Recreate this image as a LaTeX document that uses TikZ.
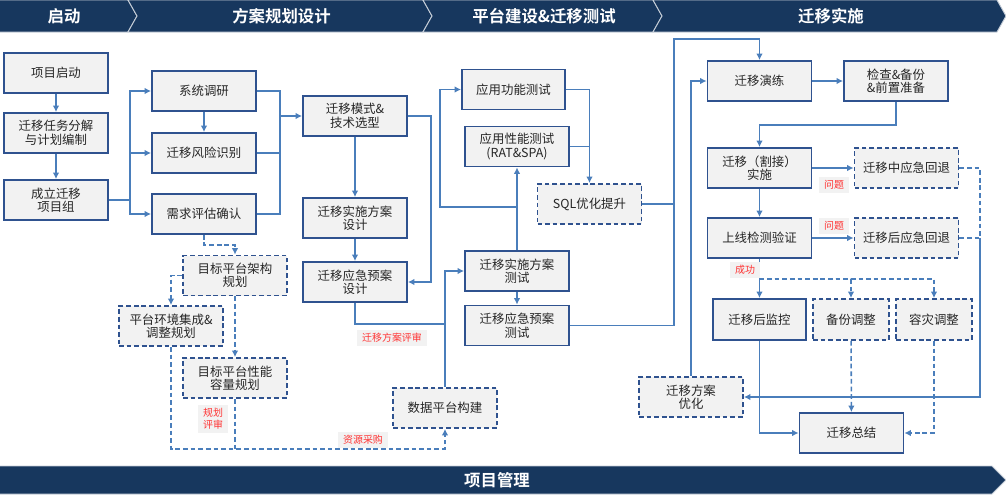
\documentclass[tikz,border=0pt]{standalone}
\usepackage{fontspec}
\setmainfont{Noto Sans CJK SC}[BoldFont={Noto Sans CJK SC Bold}]
\usetikzlibrary{arrows.meta}
\definecolor{bandColor}{RGB}{23,55,94}
\definecolor{boxBorder}{RGB}{47,82,143}
\definecolor{lineColor}{RGB}{74,126,187}
\definecolor{boxFill}{RGB}{242,242,242}
\definecolor{noteRed}{RGB}{255,50,50}
\definecolor{textGray}{RGB}{38,38,38}
\tikzstyle{diagram} = [x = .03cm, y = -.03cm]
\tikzstyle{phaseStyle} = [fill=bandColor, draw=white!75!bandColor, line width=.8pt]
\tikzstyle{phaseText} = [text=white, font=\fontsize{14}{16}\selectfont\bfseries]
\tikzstyle{stepBox} = [draw=boxBorder, fill=boxFill, line width=1.5pt, minimum width=3.12cm, minimum height=1.2cm, inner sep=1pt, align=center, text=textGray, font=\fontsize{10.6}{11.5}\selectfont]
\tikzstyle{planBox} = [stepBox, dash pattern=on 4pt off 2.5pt]
\tikzstyle{plainLine} = [draw=lineColor, line width=1.3pt]
\tikzstyle{flowLine} = [plainLine, -{Latex[length=5.5pt,width=5.5pt]}]
\tikzstyle{dashLine} = [plainLine, dash pattern=on 4pt off 2.5pt]
\tikzstyle{dashFlow} = [flowLine, dash pattern=on 4pt off 2.5pt]
\tikzstyle{noteLabel} = [fill=boxFill, text=noteRed, font=\fontsize{8.5}{10}\selectfont, inner xsep=4pt, inner ysep=3pt, align=center]
\newcommand{\phaseSegment}[4]{\filldraw [phaseStyle] (#1,0) -- (#2,0) -- (#2+9,16) -- (#2,32) -- (#1,32) -- (#1+9,16) -- cycle; \node [phaseText] (#3) at ({(#1+#2)/2+6},16) {#4};}
\begin{document}
\begin{tikzpicture}[diagram]
\useasboundingbox (0,0) rectangle (1006,500);
% phases
\phaseSegment{-12}{128}{phaseStart}{启动}
\phaseSegment{128}{423}{phasePlan}{方案规划设计}
\phaseSegment{423}{653}{phaseBuild}{平台建设\&迁移测试}
\phaseSegment{653}{997}{phaseRun}{迁移实施}
\filldraw [phaseStyle] (-2,466) -- (992,466) -- (1006,480) -- (992,494) -- (-2,494) -- cycle;
\node [phaseText] (projectMgmt) at (497,480) {项目管理};

% start
\node [stepBox] (kickoff) at (56,73) {项目启动};
\node [stepBox] (taskPlan) at (56,133) {迁移任务分解\\与计划编制};
\node [stepBox] (teamSetup) at (56,200) {成立迁移\\项目组};
\draw [flowLine] (kickoff) -- (taskPlan);
\draw [flowLine] (taskPlan) -- (teamSetup);

% planning
\node [stepBox] (survey) at (204,91) {系统调研};
\node [stepBox] (risk) at (204,153) {迁移风险识别};
\node [stepBox] (demand) at (204,214) {需求评估确认};
\node [stepBox] (modeSel) at (355,116) {迁移模式\&\\技术选型};
\node [stepBox] (implDesign) at (355,218) {迁移实施方案\\设计};
\node [stepBox] (contDesign) at (355,282) {迁移应急预案\\设计};
\node [planBox] (archPlan) at (235,275.5) {目标平台架构\\规划};
\node [planBox] (envPlan) at (171,326) {平台环境集成\&\\调整规划};
\node [planBox] (capPlan) at (235,378) {目标平台性能\\容量规划};
\coordinate (splitA) at (130,200);
\coordinate (mergeA) at (280,116);
\draw [plainLine] (teamSetup.east) -- (splitA);
\draw [flowLine] (splitA) |- (survey.west);
\draw [flowLine] (splitA) |- (risk.west);
\draw [flowLine] (splitA) |- (demand.west);
\draw [flowLine] (survey) -- (risk);
\draw [plainLine] (survey.east) -| (mergeA);
\draw [plainLine] (risk.east) -| (mergeA);
\draw [plainLine] (demand.east) -| (mergeA);
\draw [flowLine] (mergeA) -- (modeSel.west);
\draw [flowLine] (modeSel) -- (implDesign);
\draw [flowLine] (implDesign) -- (contDesign);
\draw [flowLine] (modeSel.east) -- ++(23,0) |- (contDesign.east);
\draw [dashFlow] (demand.south) -- ++(0,10) -| (archPlan.north);
\draw [dashFlow] (archPlan.west) -| (envPlan.north);
\draw [dashFlow] (archPlan) -- (capPlan);

% build and test
\node [stepBox, minimum width=3.09cm] (funcTest) at (513.5,89.5) {应用功能测试};
\node [stepBox] (perfTest) at (517,146.5) {应用性能测试\\(RAT\&SPA)};
\node [planBox] (sqlOpt) at (589.5,204) {SQL优化提升};
\node [stepBox] (implTest) at (517,271) {迁移实施方案\\测试};
\node [stepBox] (contTest) at (517,325.5) {迁移应急预案\\测试};
\node [planBox] (dataBuild) at (445,408) {数据平台构建};
\coordinate (reviewJoin) at (445,324);
\coordinate (funcJoin) at (517,207);
\coordinate (purchase) at (445,449);
\draw [plainLine] (contDesign.south) |- (reviewJoin);
\draw [flowLine] (dataBuild.north) |- (implTest.west);
\draw [flowLine] (implTest) -- (perfTest);
\draw [flowLine] (funcJoin) -- (440,207) |- (funcTest.west);
\draw [flowLine] (implTest) -- (contTest);
\draw [flowLine] (funcTest.east) -| (sqlOpt.north);
\draw [plainLine] (perfTest.east) -- (perfTest.east -| sqlOpt.north);
\draw [dashFlow] (envPlan.south) |- (purchase) -- (dataBuild.south);
\draw [dashLine] (capPlan.south) -- (capPlan.south |- purchase);
\node [noteLabel] (planReview) at (392,338) {迁移方案评审};
\node [noteLabel] (layoutReview) at (213,419) {规划\\评审};
\node [noteLabel] (resourceBuy) at (363,440) {资源采购};

% migration
\node [stepBox] (drill) at (759.5,81) {迁移演练};
\node [stepBox] (check) at (896,81) {检查\&备份\\\&前置准备};
\node [stepBox] (cutover) at (759.5,168) {迁移（割接）\\实施};
\node [planBox] (midRollback) at (906.5,168) {迁移中应急回退};
\node [stepBox] (verify) at (759.5,238) {上线检测验证};
\node [planBox] (postRollback) at (906.5,238) {迁移后应急回退};
\node [stepBox, minimum width=2.79cm, minimum height=1.23cm] (monitor) at (759.5,319.5) {迁移后监控};
\node [planBox, minimum width=2.28cm, minimum height=1.23cm] (backupAdj) at (851,319.5) {备份调整};
\node [planBox, minimum width=2.28cm, minimum height=1.23cm] (drAdj) at (934,319.5) {容灾调整};
\node [planBox] (optimize) at (691,397) {迁移方案\\优化};
\node [stepBox] (summary) at (851.5,433) {迁移总结};
\coordinate (topBend) at (674,39);
\coordinate (rollJoin) at (980,238);
\coordinate (okSplit) at (759.5,279);
\draw [flowLine] (contTest.east) -| (topBend) -| (drill.north);
\draw [plainLine] (sqlOpt.east) -- (sqlOpt.east -| topBend);
\draw [flowLine] (drill) -- (check);
\draw [flowLine] (check.south) -- ++(0,23) -| (cutover.north);
\draw [flowLine] (cutover) -- (midRollback);
\draw [flowLine] (cutover) -- (verify);
\draw [flowLine] (verify) -- (postRollback);
\draw [dashLine] (midRollback.east) -| (rollJoin);
\draw [dashLine] (postRollback.east) -- (rollJoin);
\draw [flowLine] (rollJoin) |- (optimize.east);
\draw [flowLine] (optimize.north) |- (drill.west);
\draw [dashLine] (verify.south) -- (okSplit);
\draw [flowLine] (okSplit) -- (monitor.north);
\draw [dashFlow] (okSplit) -| (backupAdj.north);
\draw [dashFlow] (okSplit) -| (drAdj.north);
\draw [flowLine] (monitor.south) |- (summary.west);
\draw [dashFlow] (backupAdj) -- (summary);
\draw [dashFlow] (drAdj.south) |- (summary.east);
\node [noteLabel] (issueMid) at (834,185) {问题};
\node [noteLabel] (issuePost) at (834,226) {问题};
\node [noteLabel] (okNote) at (745,270) {成功};
\end{tikzpicture}
\end{document}
